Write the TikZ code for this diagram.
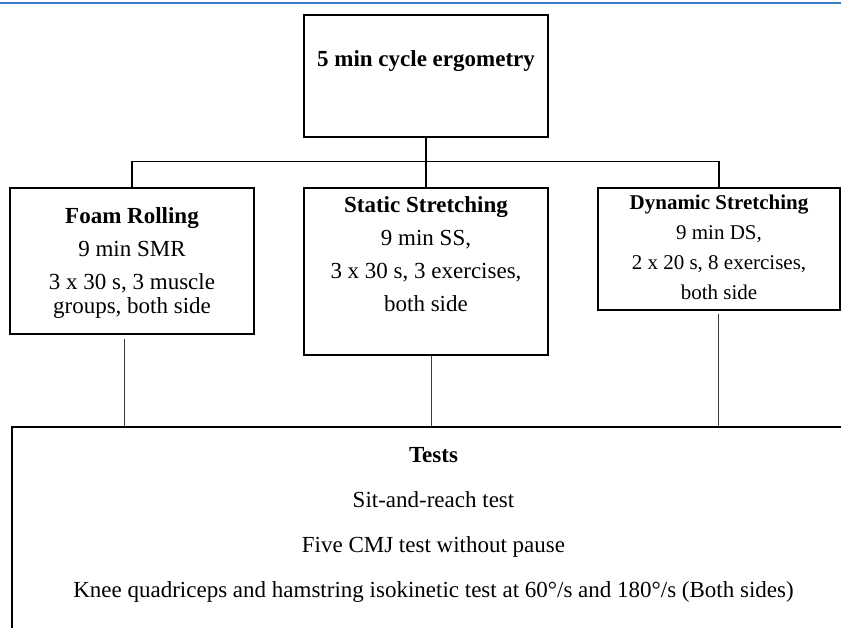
\documentclass[tikz,border=0pt]{standalone}
\usepackage{fontspec}
\setmainfont{Liberation Serif}
\usetikzlibrary{positioning}
\definecolor{hdBlue}{HTML}{3B7CC4}
\definecolor{linkGrey}{HTML}{3C3C3C}
\tikzset{
  frame/.style = {rectangle, draw=black, line width=1.8pt, inner sep=0pt},
  bus/.style   = {black, line width=1.8pt},
  drop/.style  = {linkGrey, line width=0.9pt},
  txt/.style   = {align=center, inner sep=0pt, font=\fontsize{23}{33}\selectfont},
  smalltxt/.style = {txt, font=\fontsize{21}{30}\selectfont},
}

\begin{document}
\begin{tikzpicture}[x=1pt,y=-1pt]
  \useasboundingbox (0,0) rectangle (841,628);
  \clip (0,0) rectangle (841,628);
  \draw[hdBlue, line width=2pt] (0,3.5) -- (841,3.5);

  % boxes
  \node[frame, minimum width=244pt, minimum height=122pt] (ergo) at (426,76) {};
  \node[frame, minimum width=244pt, minimum height=146pt] (foam) at (132,261) {};
  \node[frame, minimum width=244pt, minimum height=167pt] (static) at (426,271.5) {};
  \node[frame, minimum width=242pt, minimum height=122pt] (dyn) at (719,249) {};
  \node[frame, minimum width=843pt, minimum height=240pt] (tests) at (433.5,547) {};

  % texts
  \node[txt, font=\bfseries\fontsize{23}{33}\selectfont, below=36pt of ergo.north] (ergoT) {5 min cycle ergometry};
  \node[txt, below=20pt of foam.north] (foamT)
    {\textbf{Foam Rolling}\\9 min SMR\\3 x 30 s, 3 muscle\\[-9pt]groups, both side};
  \node[txt, below=9pt of static.north] (staticT)
    {\textbf{Static Stretching}\\9 min SS,\\3 x 30 s, 3 exercises,\\both side};
  \node[smalltxt, below=8pt of dyn.north] (dynT)
    {\textbf{Dynamic Stretching}\\9 min DS,\\2 x 20 s, 8 exercises,\\both side};
  \node[txt, font=\fontsize{23}{45}\selectfont, below=21pt of tests.north] (testsT)
    {\textbf{Tests}\\Sit-and-reach test\\Five CMJ test without pause\\
     Knee quadriceps and hamstring isokinetic test at 60°/s and 180°/s (Both sides)};

  % connectors
  \draw[bus] (ergo.south) -- (static.north);
  \draw[bus] (foam.north) -- ++(0,-25.5) -| (dyn.north);
  \foreach \b/\dx/\gap in {foam/-8/4, static/5/0, dyn/-1/3}
    \draw[drop] ([xshift=\dx pt, yshift=-\gap pt]\b.south) -- ([xshift=\dx pt]\b.south |- tests.north);
\end{tikzpicture}
\end{document}
